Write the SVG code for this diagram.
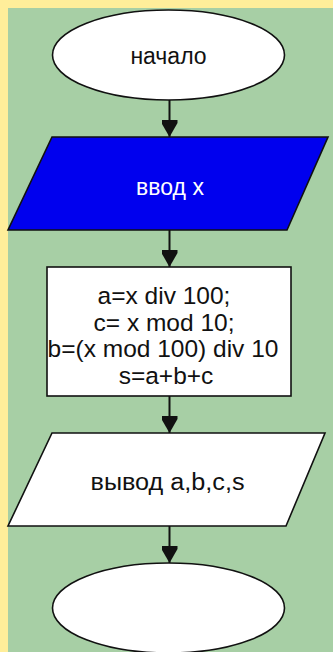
<svg xmlns="http://www.w3.org/2000/svg" width="333" height="652" viewBox="0 0 333 652">
  <style>
    .shape { stroke: #111; stroke-width: 1.6; }
    .white { fill: #ffffff; }
    .blue { fill: #0000ee; }
    .txt { font-family: "Liberation Sans", Arial, sans-serif; font-size: 23px; text-anchor: middle; fill: #111; }
    .big { font-size: 24.5px; }
    .wtxt { fill: #ffffff; }
    .conn { stroke: #111; stroke-width: 2; fill: none; marker-end: url(#arrow); }
  </style>
  <defs>
    <marker id="arrow" viewBox="0 0 16 17" refX="8" refY="17" markerWidth="16" markerHeight="17" markerUnits="userSpaceOnUse" orient="0">
      <path d="M0,0 H16 V3 L8,17 L0,3 Z" fill="#111"/>
    </marker>
  </defs>
  <rect x="0" y="0" width="333" height="652" fill="#ffee9a"/>
  <rect x="8" y="8" width="325" height="644" fill="#a7cfa5"/>

  <g id="connectors">
    <line class="conn" x1="169.5" y1="100" x2="169.5" y2="137"/>
    <line class="conn" x1="169.5" y1="230" x2="169.5" y2="267"/>
    <line class="conn" x1="169.5" y1="396" x2="169.5" y2="433"/>
    <line class="conn" x1="169.5" y1="526" x2="169.5" y2="563"/>
  </g>

  <g id="start">
    <ellipse class="shape white" cx="168.5" cy="55" rx="116" ry="45"/>
    <text class="txt" x="168.5" y="64">начало</text>
  </g>

  <g id="input">
    <polygon class="shape blue" points="52,137 328,137 287,230 8,230"/>
    <text class="txt wtxt" x="170" y="195">ввод x</text>
  </g>

  <g id="process">
    <rect class="shape white" x="47" y="267" width="244" height="129"/>
    <text class="txt big" x="164" y="304">a=x div 100;</text>
    <text class="txt big" x="164" y="330.5">c= x mod 10;</text>
    <text class="txt big" x="163" y="357">b=(x mod 100) div 10</text>
    <text class="txt big" x="166" y="383.5">s=a+b+c</text>
  </g>

  <g id="output">
    <polygon class="shape white" points="52,433 325,433 286,526 8,526"/>
    <text class="txt" x="167.5" y="490" textLength="154" lengthAdjust="spacingAndGlyphs">вывод a,b,c,s</text>
  </g>

  <g id="end">
    <ellipse class="shape white" cx="168.5" cy="608" rx="116" ry="45"/>
  </g>
</svg>
